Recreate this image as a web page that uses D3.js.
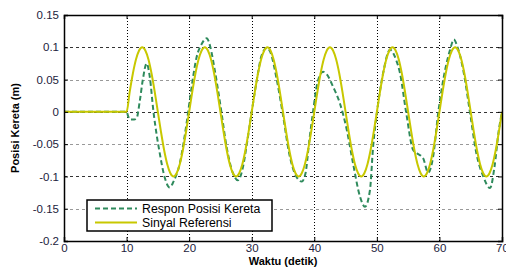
<!DOCTYPE html>
<html><head><meta charset="utf-8">
<script src="https://cdn.jsdelivr.net/npm/d3@7"></script>
<style>body{margin:0;background:#fff}svg{display:block}text{font-family:"Liberation Sans",Arial,sans-serif}</style>
</head><body><svg id="c" width="506" height="267"></svg>
<script>
const xTicks=[0,10,20,30,40,50,60,70];
const yTicks=[-0.2,-0.15,-0.1,-0.05,0,0.05,0.1,0.15];
const yTickLabels=["-0.2","-0.15","-0.1","-0.05","0","0.05","0.1","0.15"];
const seriesNames=["Respon Posisi Kereta","Sinyal Referensi"];
// Reference signal (Sinyal Referensi)
const refT=[0,10,10.5,11,11.5,12,12.5,13,13.5,14,14.5,15,15.5,16,16.5,17,17.5,18,18.5,19,19.5,20,20.5,21,21.5,22,22.5,23,23.5,24,24.5,25,25.5,26,26.5,27,27.5,28,28.5,29,29.5,30,30.5,31,31.5,32,32.5,33,33.5,34,34.5,35,35.5,36,36.5,37,37.5,38,38.5,39,39.5,40,40.5,41,41.5,42,42.5,43,43.5,44,44.5,45,45.5,46,46.5,47,47.5,48,48.5,49,49.5,50,50.5,51,51.5,52,52.5,53,53.5,54,54.5,55,55.5,56,56.5,57,57.5,58,58.5,59,59.5,60,60.5,61,61.5,62,62.5,63,63.5,64,64.5,65,65.5,66,66.5,67,67.5,68,68.5,69,69.5,70];
const refY=[0,0,0.031,0.059,0.081,0.095,0.1,0.095,0.081,0.059,0.031,0,-0.031,-0.059,-0.081,-0.095,-0.1,-0.095,-0.081,-0.059,-0.031,0,0.031,0.059,0.081,0.095,0.1,0.095,0.081,0.059,0.031,0,-0.031,-0.059,-0.081,-0.095,-0.1,-0.095,-0.081,-0.059,-0.031,0,0.031,0.059,0.081,0.095,0.1,0.095,0.081,0.059,0.031,0,-0.031,-0.059,-0.081,-0.095,-0.1,-0.095,-0.081,-0.059,-0.031,0,0.031,0.059,0.081,0.095,0.1,0.095,0.081,0.059,0.031,0,-0.031,-0.059,-0.081,-0.095,-0.1,-0.095,-0.081,-0.059,-0.031,0,0.031,0.059,0.081,0.095,0.1,0.095,0.081,0.059,0.031,0,-0.031,-0.059,-0.081,-0.095,-0.1,-0.095,-0.081,-0.059,-0.031,0,0.031,0.059,0.081,0.095,0.1,0.095,0.081,0.059,0.031,0,-0.031,-0.059,-0.081,-0.095,-0.1,-0.095,-0.081,-0.059,-0.031,0];
// Train position response (Respon Posisi Kereta)
const respT=[0,10,10.3,10.6,11.2,11.6,12.1,12.6,13.2,13.7,14.3,14.8,15.3,16.0,16.9,17.5,18.5,19.6,20.2,21.2,22.0,22.8,23.4,24.0,25.0,26.0,27.0,27.8,28.5,29.3,30.0,31.0,31.5,32.4,33.0,34.0,35.0,36.0,37.0,38.0,38.6,39.2,39.8,40.5,41.4,42.0,43.0,44.1,45.2,46.2,47.3,48.1,48.9,49.4,50.0,51.0,52.1,53.1,53.7,54.7,55.8,56.4,57.4,58.2,59.0,59.8,60.6,61.7,62.3,62.9,63.8,64.9,65.9,67.0,68.1,68.8,69.5,70.0];
const respY=[0,0,-0.008,-0.012,-0.012,-0.010,0.016,0.05,0.075,0.055,0,-0.035,-0.064,-0.098,-0.117,-0.108,-0.08,-0.017,0.025,0.085,0.105,0.114,0.1,0.07,0.01,-0.055,-0.095,-0.106,-0.09,-0.045,0,0.06,0.085,0.099,0.092,0.05,-0.005,-0.065,-0.098,-0.108,-0.095,-0.045,0,0.045,0.062,0.058,0.039,0.013,-0.028,-0.08,-0.131,-0.147,-0.121,-0.054,-0.002,0.06,0.096,0.08,0.06,-0.002,-0.059,-0.064,-0.072,-0.094,-0.069,-0.002,0.049,0.096,0.112,0.1,0.065,-0.002,-0.064,-0.1,-0.118,-0.085,-0.028,0];

const W=506,H=267,m={l:64,r:4,t:15,b:26};
const svg=d3.select("#c");
const x=d3.scaleLinear().domain([0,70]).range([m.l,W-m.r]);
const y=d3.scaleLinear().domain([-0.2,0.15]).range([H-m.b,m.t]);
const g=svg.append("g");
// grid
g.selectAll(".vg").data(xTicks.filter(d=>d>0&&d<70)).join("line")
 .attr("x1",d=>Math.round(x(d))+0.5).attr("x2",d=>Math.round(x(d))+0.5).attr("y1",y(0.15)).attr("y2",y(-0.2))
 .attr("stroke","#000").attr("stroke-width",1).attr("stroke-dasharray","1,2");
g.selectAll(".hg").data(yTicks.filter(d=>d>-0.2&&d<0.15)).join("line")
 .attr("x1",x(0)).attr("x2",x(70)).attr("y1",d=>Math.round(y(d))+0.5).attr("y2",d=>Math.round(y(d))+0.5)
 .attr("stroke",(d,i)=>[ "#999","#333","#999","#333","#999","#333"][i]).attr("stroke-width",1).attr("stroke-dasharray","3,3");
const line=(T,Y)=>d3.line().x((d,i)=>x(T[i])).y((d,i)=>y(Y[i])).curve(d3.curveMonotoneX)(T);
svg.append("path").attr("d",line(respT,respY)).attr("fill","none").attr("stroke","#2e8a5c").attr("stroke-width",2).attr("stroke-dasharray","5,3");
svg.append("path").attr("d",line(refT,refY)).attr("fill","none").attr("stroke","#c8c800").attr("stroke-width",2);
// axes
const ax=svg.append("g").attr("transform",`translate(0,${y(-0.2)})`).call(d3.axisBottom(x).tickValues(xTicks).tickSize(-4).tickPadding(2.5));
const ay=svg.append("g").attr("transform",`translate(${x(0)},0)`).call(d3.axisLeft(y).tickValues(yTicks).tickFormat((d,i)=>yTickLabels[i]).tickSize(-4).tickPadding(5));
svg.append("g").attr("transform",`translate(0,${y(0.15)})`).call(d3.axisTop(x).tickValues(xTicks).tickSize(-4).tickFormat(""));
svg.append("g").attr("transform",`translate(${x(70)},0)`).call(d3.axisRight(y).tickValues(yTicks).tickSize(-4).tickFormat(""));
svg.selectAll(".domain").attr("stroke","#000").attr("stroke-width",1.5);
svg.selectAll(".tick text").attr("font-size",11.5).attr("fill","#1c1c3c").attr("font-family","Liberation Sans, Arial, sans-serif");
// labels
svg.append("text").attr("x",(x(0)+x(70))/2).attr("y",264.5).attr("text-anchor","middle").attr("font-size",11).attr("font-weight","bold").text("Waktu (detik)");
svg.append("text").attr("transform",`translate(19,${(y(0.15)+y(-0.2))/2}) rotate(-90)`).attr("text-anchor","middle").attr("font-size",11).attr("font-weight","bold").text("Posisi Kereta (m)");
// legend
const lg=svg.append("g");
lg.append("rect").attr("x",87).attr("y",200).attr("width",185).attr("height",31).attr("fill","#fff").attr("stroke","#000").attr("stroke-width",1.5);
const ly=[208.5,222.5];
lg.append("line").attr("x1",95).attr("x2",137).attr("y1",ly[0]).attr("y2",ly[0]).attr("stroke","#2e8a5c").attr("stroke-width",2).attr("stroke-dasharray","5,3");
lg.append("line").attr("x1",95).attr("x2",137).attr("y1",ly[1]).attr("y2",ly[1]).attr("stroke","#c8c800").attr("stroke-width",2);
seriesNames.forEach((n,i)=>lg.append("text").attr("x",142).attr("y",ly[i]+4).attr("font-size",12.3).attr("fill","#000").text(n));
</script></body></html>
